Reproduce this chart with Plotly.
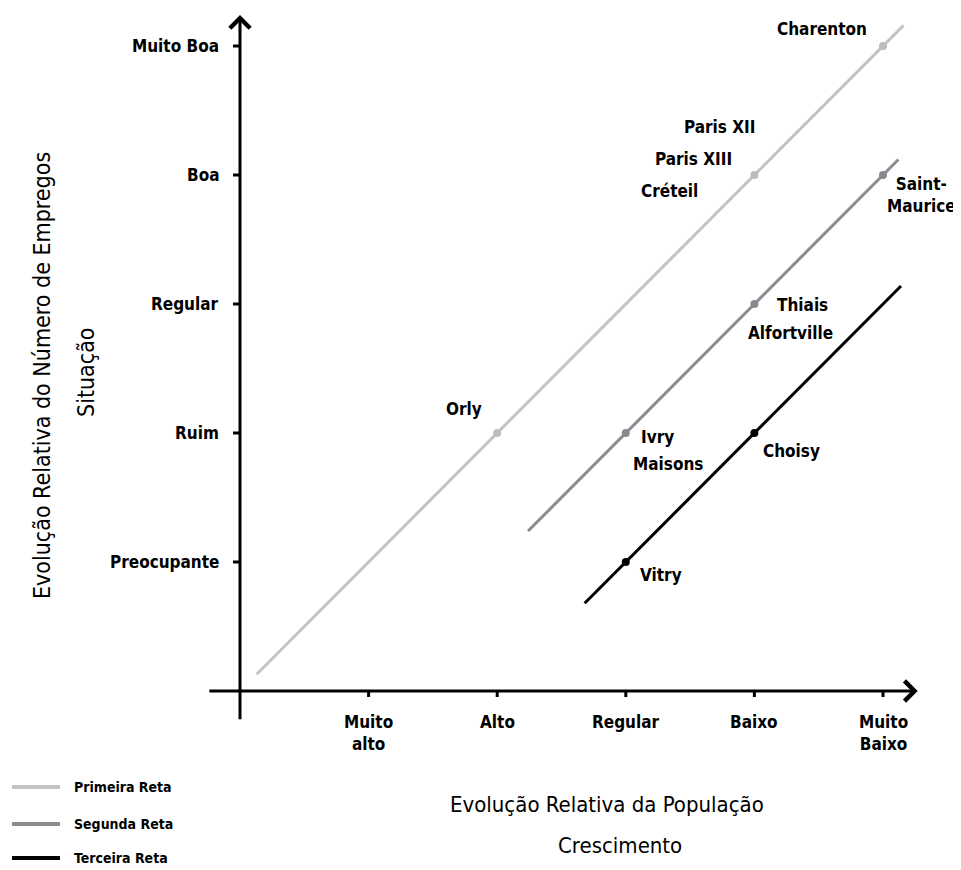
import plotly.graph_objects as go

# ---------------- data ----------------
tick_vals = [1, 2, 3, 4, 5]
x_tick_labels = ["Muito<br>alto", "Alto", "Regular", "Baixo", "Muito<br>Baixo"]
y_tick_labels = ["Preocupante", "Ruim", "Regular", "Boa", "Muito Boa"]

series_names = ["Primeira Reta", "Segunda Reta", "Terceira Reta"]
# line extents
primeira_line_x = [0.13, 5.16]
primeira_line_y = [0.13, 5.16]
segunda_line_x = [2.24, 5.12]
segunda_line_y = [1.24, 4.12]
terceira_line_x = [2.68, 5.14]
terceira_line_y = [0.68, 3.14]
# marked points
primeira_pts_x = [2, 4, 5]
primeira_pts_y = [2, 4, 5]
segunda_pts_x = [3, 4, 5]
segunda_pts_y = [2, 3, 4]
terceira_pts_x = [3, 4]
terceira_pts_y = [1, 2]

# point labels: (text, series index, point index, dx px, dy px)
point_labels = [
    ("Charenton", 0, 2, -61, -17),
    ("Paris XII", 0, 1, -35, -48),
    ("Paris XIII", 0, 1, -61, -16),
    ("Créteil", 0, 1, -85, 16),
    ("Orly", 0, 0, -33, -24),
    ("Saint-<br>Maurice", 1, 2, 38, 20),
    ("Thiais", 1, 1, 48, 1),
    ("Alfortville", 1, 1, 36, 29),
    ("Ivry", 1, 0, 32, 4),
    ("Maisons", 1, 0, 42, 31),
    ("Choisy", 2, 1, 37, 18),
    ("Vitry", 2, 0, 35, 13),
]

x_title = "Evolução Relativa da População"
x_subtitle = "Crescimento"
y_title = "Evolução Relativa do Número de Empregos"
y_subtitle = "Situação"

# ---------------- style ----------------
W, H = 961, 870
PAGE_OFF = 8  # default body margin of the page
ORIGIN_PX = (240 - PAGE_OFF, 691 - PAGE_OFF)
UNIT_X, UNIT_Y = 128.6, 129.0
X_RANGE = [-ORIGIN_PX[0] / UNIT_X, (W - ORIGIN_PX[0]) / UNIT_X]
Y_RANGE = [(ORIGIN_PX[1] - H) / UNIT_Y, ORIGIN_PX[1] / UNIT_Y]
X_AXIS_EXT = [-0.25, 5.27]
Y_AXIS_EXT = [-0.23, 5.24]


def px(x):
    return (x - PAGE_OFF) / W


def py(y):
    return 1 - (y - PAGE_OFF) / H


colors = ["#c3c3c3", "#8b8b92", "#000000"]
marker_colors = ["#bdbdbd", "#888890", "#000000"]
FONT = "Liberation Sans Narrow, Arial Narrow, DejaVu Sans Condensed, sans-serif"

lines_x = [primeira_line_x, segunda_line_x, terceira_line_x]
lines_y = [primeira_line_y, segunda_line_y, terceira_line_y]
pts_x = [primeira_pts_x, segunda_pts_x, terceira_pts_x]
pts_y = [primeira_pts_y, segunda_pts_y, terceira_pts_y]

fig = go.Figure()
for i, name in enumerate(series_names):
    fig.add_trace(go.Scatter(x=lines_x[i], y=lines_y[i], mode="lines", name=name,
                             line=dict(color=colors[i], width=3), showlegend=False,
                             hoverinfo="skip"))
    fig.add_trace(go.Scatter(x=pts_x[i], y=pts_y[i], mode="markers", name=name,
                             marker=dict(color=marker_colors[i], size=8), showlegend=False))

annotations = []
shapes = []

# axes with arrows
annotations.append(dict(x=X_AXIS_EXT[1], y=0, ax=X_AXIS_EXT[0], ay=0, xref="x", yref="y",
                        axref="x", ayref="y", text="", showarrow=True, arrowhead=4,
                        arrowsize=1.3, arrowwidth=3, arrowcolor="#000", standoff=0))
annotations.append(dict(x=0, y=Y_AXIS_EXT[1], ax=0, ay=Y_AXIS_EXT[0], xref="x", yref="y",
                        axref="x", ayref="y", text="", showarrow=True, arrowhead=4,
                        arrowsize=1.3, arrowwidth=3, arrowcolor="#000", standoff=0))

LBL = dict(family=FONT, size=17, color="#000", weight="bold")

# ticks and tick labels
for v, lab in zip(tick_vals, x_tick_labels):
    shapes.append(dict(type="line", xref="x", yref="y", x0=v, x1=v, y0=0, y1=-6 / UNIT_Y,
                       line=dict(color="#000", width=3)))
    annotations.append(dict(x=v, y=0, xref="x", yref="y", text=lab, showarrow=False,
                            xanchor="center", yanchor="top", yshift=-19, font=LBL,
                            align="center"))
for v, lab in zip(tick_vals, y_tick_labels):
    shapes.append(dict(type="line", xref="x", yref="y", x0=0, x1=-7 / UNIT_X, y0=v, y1=v,
                       line=dict(color="#000", width=3)))
    annotations.append(dict(x=0, y=v, xref="x", yref="y", text=lab, showarrow=False,
                            xanchor="right", yanchor="middle", xshift=-19, font=LBL))

# point labels
for text, s, p, dx, dy in point_labels:
    annotations.append(dict(x=pts_x[s][p], y=pts_y[s][p], xref="x", yref="y", text=text,
                            showarrow=False, xanchor="center", yanchor="middle",
                            xshift=dx, yshift=-dy, align="center", font=LBL))

# axis titles
TF = dict(family=FONT, size=22, color="#000")
YF = dict(family=FONT, size=23, color="#000")
annotations.append(dict(x=px(607), y=py(804), xref="paper", yref="paper", text=x_title,
                        showarrow=False, xanchor="center", yanchor="middle", font=TF))
annotations.append(dict(x=px(620), y=py(845), xref="paper", yref="paper", text=x_subtitle,
                        showarrow=False, xanchor="center", yanchor="middle", font=TF))
annotations.append(dict(x=px(42), y=py(376), xref="paper", yref="paper", text=y_title,
                        showarrow=False, textangle=-90, xanchor="center", yanchor="middle",
                        font=YF))
annotations.append(dict(x=px(86), y=py(372), xref="paper", yref="paper", text=y_subtitle,
                        showarrow=False, textangle=-90, xanchor="center", yanchor="middle",
                        font=YF))

# custom legend
legend_y = [787, 824, 858]
for i, name in enumerate(series_names):
    shapes.append(dict(type="line", xref="paper", yref="paper", x0=px(12), x1=px(60),
                       y0=py(legend_y[i]), y1=py(legend_y[i]),
                       line=dict(color=colors[i], width=4)))
    annotations.append(dict(x=px(72), y=py(legend_y[i]), xref="paper", yref="paper",
                            text=name, showarrow=False, xanchor="left", yanchor="middle",
                            font=dict(family=FONT, size=14, color="#000", weight="bold")))

fig.update_layout(
    width=W, height=H, margin=dict(l=0, r=0, t=0, b=0),
    plot_bgcolor="white", paper_bgcolor="white",
    xaxis=dict(range=X_RANGE, visible=False, fixedrange=True),
    yaxis=dict(range=Y_RANGE, visible=False, fixedrange=True),
    annotations=annotations, shapes=shapes, showlegend=False,
)
fig.write_html("out.html")
